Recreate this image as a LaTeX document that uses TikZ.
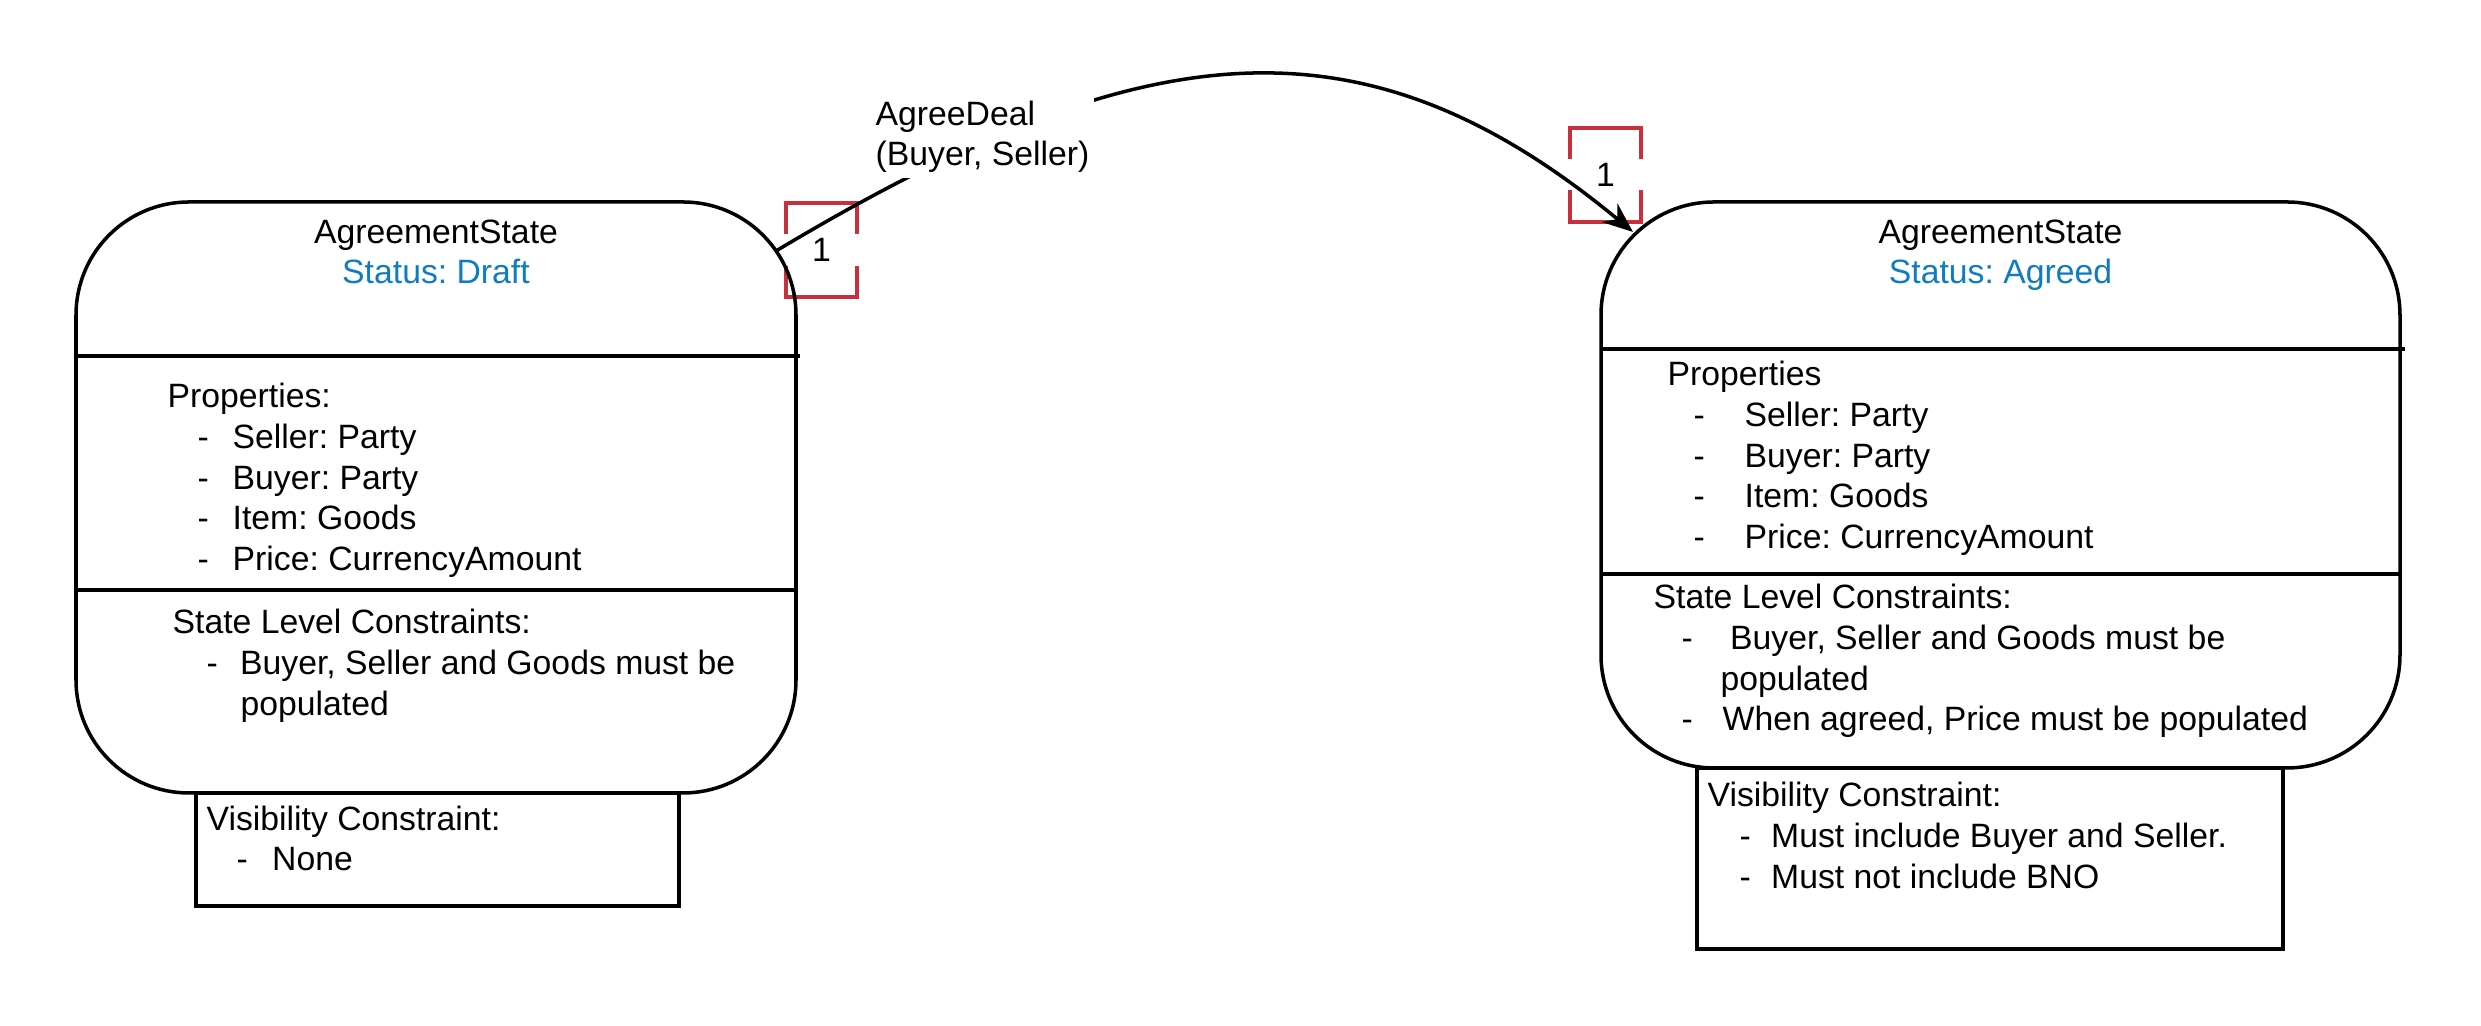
\documentclass[tikz,border=0pt]{standalone}
\usepackage{fontspec}
\setmainfont{Liberation Sans}
\usetikzlibrary{arrows.meta}
\definecolor{statusblue}{RGB}{16,124,192}
\definecolor{markred}{RGB}{200,48,60}
\newcommand{\bul}[3]{\hspace*{#1}\makebox[#2][l]{-}#3}
\frenchspacing

\begin{document}
\begin{tikzpicture}[
		every node/.style={font=\fontsize{9.6}{11.57}\selectfont, inner sep=0pt},
		txt/.style={anchor=base west, align=left},
		ttl/.style={anchor=base, align=center},
		edge/.style={line width=1pt},
		multbox/.style={draw=markred, line width=0.9pt}
	]
		%%%%% START %%%%%
		\useasboundingbox (0, 0) rectangle (24.81, 10.26);
		
		% multiplicity marks
		\draw[multbox] (7.86, 7.29) rectangle (8.57, 8.23);
		\node[fill=white, minimum width=0.8cm, minimum height=0.32cm] (multfrom) at (8.215, 7.76) {1};
		\draw[multbox] (15.70, 8.04) rectangle (16.41, 8.98);
		\node[fill=white, minimum width=0.8cm, minimum height=0.31cm] (multto) at (16.055, 8.51) {1};
		
		% draft state (anchors sit on the last baseline)
		\draw[edge, rounded corners=1.13cm] (0.76, 2.33) rectangle (7.96, 8.24);
		\draw[edge] (0.76, 6.70) -- (8.00, 6.70);
		\draw[edge] (0.76, 4.36) -- (7.96, 4.36);
		\draw[edge] (1.96, 1.20) rectangle (6.79, 2.33);
		\node[ttl] (drafttitle) at (4.36, 7.42) {AgreementState\\\textcolor{statusblue}{Status: Draft}};
		\node[txt] (draftprops) at (1.67, 4.554) {Properties:\\
			\bul{0.30cm}{0.35cm}{Seller: Party}\\
			\bul{0.30cm}{0.35cm}{Buyer: Party}\\
			\bul{0.30cm}{0.35cm}{Item: Goods}\\
			\bul{0.30cm}{0.35cm}{Price: CurrencyAmount}};
		\node[txt] (draftrules) at (1.72, 3.107) {State Level Constraints:\\
			\bul{0.34cm}{0.335cm}{Buyer, Seller and Goods must be}\\
			\hspace*{0.68cm}populated};
		\node[txt] (draftvis) at (2.06, 1.553) {Visibility Constraint:\\
			\bul{0.30cm}{0.355cm}{None}};
		
		% agreed state
		\draw[edge, rounded corners=1.13cm] (16.01, 2.58) rectangle (24.00, 8.24);
		\draw[edge] (16.01, 6.77) -- (24.05, 6.77);
		\draw[edge] (16.01, 4.52) -- (24.00, 4.52);
		\draw[edge] (16.97, 0.77) rectangle (22.83, 2.58);
		\node[ttl] (agreedtitle) at (20.005, 7.42) {AgreementState\\\textcolor{statusblue}{Status: Agreed}};
		\node[txt] (agreedprops) at (16.67, 4.774) {Properties\\
			\bul{0.26cm}{0.51cm}{Seller: Party}\\
			\bul{0.26cm}{0.51cm}{Buyer: Party}\\
			\bul{0.26cm}{0.51cm}{Item: Goods}\\
			\bul{0.26cm}{0.51cm}{Price: CurrencyAmount}};
		\node[txt] (agreedrules) at (16.53, 2.95) {State Level Constraints:\\
			\bul{0.28cm}{0.485cm}{Buyer, Seller and Goods must be}\\
			\hspace*{0.67cm}populated\\
			\bul{0.28cm}{0.41cm}{When agreed, Price must be populated}};
		\node[txt] (agreedvis) at (17.07, 1.377) {Visibility Constraint:\\
			\bul{0.32cm}{0.315cm}{Must include Buyer and Seller.}\\
			\bul{0.32cm}{0.315cm}{Must not include BNO}};
		
		% transition
		\coordinate (dealfrom) at (7.76, 7.75);
		\coordinate (dealto) at (16.33, 7.94);
		\draw[edge, -{Stealth[length=3mm, width=2.4mm]}] (dealfrom) .. controls (11.45, 9.96) and (13.635, 10.17) .. (dealto);
		\node[txt, fill=white, inner sep=0.05cm] (deal) at (8.70, 8.603) {AgreeDeal\\(Buyer, Seller)};
		%%%%% END %%%%%
	\end{tikzpicture}
\end{document}
